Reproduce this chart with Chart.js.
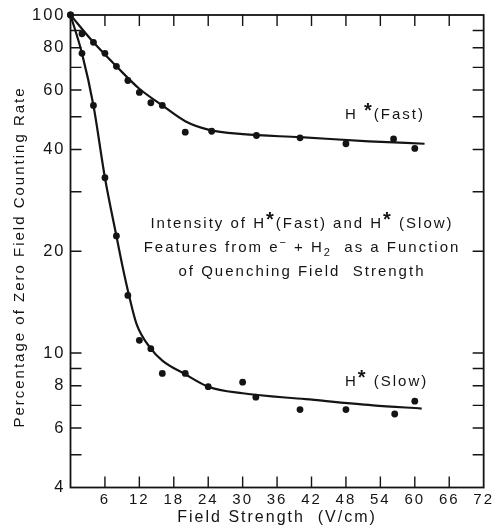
<!DOCTYPE html>
<html>
<head>
<meta charset="utf-8">
<script src="https://cdn.jsdelivr.net/npm/chart.js@4"></script>
<style>
  html, body { margin: 0; padding: 0; background: #fff; }
  #wrap { width: 495px; height: 527px; }
</style>
</head>
<body>
<div id="wrap"><canvas id="chart" width="495" height="527"></canvas></div>
<script>
// ==== Data ====
const fastX = [0, 2, 4, 6, 8, 10, 12, 14, 16, 20, 24.6, 32.4, 40, 48, 56.3, 60];
const fastY = [100, 88, 83, 77, 70.5, 64, 59, 55, 54, 45, 45.3, 44, 43.3, 41.6, 43, 40.3];

const slowX = [0, 2, 4, 6, 8, 10, 12, 14, 16, 20, 24, 30, 32.3, 40, 48, 56.5, 60];
const slowY = [100, 77, 54, 33, 22.2, 14.8, 10.9, 10.3, 8.7, 8.7, 7.95, 8.2, 7.4, 6.8, 6.8, 6.6, 7.2];

// hand drawn fit curves
const fastCurveX = [0, 4, 8, 12, 16, 20, 24, 30, 40, 52, 61.7];
const fastCurveY = [100, 83, 70.5, 60.5, 54, 48.5, 45.8, 44.4, 43.5, 42.3, 41.6];

const slowCurveX = [0, 2, 4, 6, 8, 9.2, 10.2, 11.5, 14, 16, 20, 24, 30, 41, 52.7, 61.2];
const slowCurveY = [100, 77, 54, 33, 22.2, 17.6, 14.8, 12.2, 10.3, 9.5, 8.65, 7.95, 7.6, 7.3, 7.0, 6.85];

// axes
const xTickValues = [6, 12, 18, 24, 30, 36, 42, 48, 54, 60, 66];
const xLabelValues = [6, 12, 18, 24, 30, 36, 42, 48, 54, 60, 66, 72];
const yTickValues = [4, 5, 6, 7, 8, 9, 10, 20, 30, 40, 50, 60, 70, 80, 90, 100];
const yLabelValues = [4, 6, 8, 10, 20, 40, 60, 80, 100];

const INK = "#141414";
const FONT = "'Liberation Sans', Arial, sans-serif";
const SPACING = "2px";

const toPts = (xs, ys) => xs.map((x, i) => ({ x: x, y: ys[i] }));

// ==== Text helpers ====
function partFont(mode, size) {
  if (mode === "star") return `bold ${size + 5}px ${FONT}`;
  if (mode === "sup" || mode === "sub") return `${size - 4}px ${FONT}`;
  return `${size}px ${FONT}`;
}
function partShift(mode, size) {
  if (mode === "star") return -size * 0.12;
  if (mode === "sup") return -size * 0.4;
  if (mode === "sub") return size * 0.25;
  return 0;
}
function drawRich(ctx, parts, x, y, size, center) {
  let w = 0;
  parts.forEach(([t, m]) => { ctx.font = partFont(m, size); w += ctx.measureText(t).width; });
  let cx = center ? x - w / 2 : x;
  parts.forEach(([t, m]) => {
    ctx.font = partFont(m, size);
    ctx.fillText(t, cx, y + partShift(m, size));
    cx += ctx.measureText(t).width;
  });
}

// ==== Frame, inward ticks and lettering ====
const paperPlugin = {
  id: "paper",
  beforeDraw(chart) {
    chart.ctx.letterSpacing = SPACING;
  },
  afterDraw(chart) {
    const ctx = chart.ctx;
    const { left, right, top, bottom } = chart.chartArea;
    const xs = chart.scales.x, ys = chart.scales.y;
    const len = 11;
    ctx.save();
    ctx.strokeStyle = INK;
    ctx.lineWidth = 1.8;
    ctx.strokeRect(left, top, right - left, bottom - top);

    ctx.lineWidth = 1.4;
    ctx.beginPath();
    xTickValues.forEach(v => {
      const px = xs.getPixelForValue(v);
      ctx.moveTo(px, bottom); ctx.lineTo(px, bottom - len);
      ctx.moveTo(px, top); ctx.lineTo(px, top + len);
    });
    yTickValues.forEach(v => {
      if (v === 4 || v === 100) return;
      const py = ys.getPixelForValue(v);
      ctx.moveTo(left, py); ctx.lineTo(left + len, py);
      ctx.moveTo(right, py); ctx.lineTo(right - len, py);
    });
    ctx.stroke();

    ctx.fillStyle = INK;
    ctx.letterSpacing = SPACING;
    ctx.textAlign = "left";
    ctx.textBaseline = "alphabetic";

    // series labels
    drawRich(ctx, [["H ", ""], ["*", "star"], ["(Fast)", ""]], 345, 119, 15, false);
    drawRich(ctx, [["H", ""], ["*", "star"], [" (Slow)", ""]], 345, 386, 15, false);

    // caption
    drawRich(ctx, [["Intensity of H", ""], ["*", "star"], ["(Fast) and H", ""], ["*", "star"], [" (Slow)", ""]], 302, 228, 15, true);
    drawRich(ctx, [["Features from e", ""], ["\u2212", "sup"], [" + H", ""], ["2", "sub"], ["  as a Function", ""]], 302, 252, 15, true);
    drawRich(ctx, [["of Quenching Field  Strength", ""]], 302, 276, 15, true);

    // y axis title
    ctx.translate(24, 257);
    ctx.rotate(-Math.PI / 2);
    ctx.textAlign = "center";
    ctx.font = `15px ${FONT}`;
    ctx.fillText("Percentage of Zero Field Counting Rate", 0, 0);
    ctx.restore();
  }
};

// ==== Chart ====
const ctx = document.getElementById("chart");
const chart = new Chart(ctx, {
  type: "scatter",
  data: {
    datasets: [
      {
        label: "H*(Fast) fit",
        data: toPts(fastCurveX, fastCurveY),
        showLine: true,
        borderColor: INK,
        borderWidth: 2.2,
        pointRadius: 0,
        cubicInterpolationMode: "monotone"
      },
      {
        label: "H*(Slow) fit",
        data: toPts(slowCurveX, slowCurveY),
        showLine: true,
        borderColor: INK,
        borderWidth: 2.2,
        pointRadius: 0,
        cubicInterpolationMode: "monotone"
      },
      {
        label: "H*(Fast)",
        data: toPts(fastX, fastY),
        showLine: false,
        clip: false,
        pointRadius: 3.4,
        pointBackgroundColor: INK,
        pointBorderWidth: 0
      },
      {
        label: "H*(Slow)",
        data: toPts(slowX, slowY),
        showLine: false,
        clip: false,
        pointRadius: 3.4,
        pointBackgroundColor: INK,
        pointBorderWidth: 0
      }
    ]
  },
  options: {
    responsive: false,
    animation: false,
    layout: { padding: { top: 15, right: 10, left: 0, bottom: 0 } },
    plugins: {
      legend: { display: false },
      tooltip: { enabled: false }
    },
    scales: {
      x: {
        type: "linear",
        min: 0,
        max: 72,
        grid: { display: false, drawTicks: false },
        border: { display: false },
        afterBuildTicks: (scale) => { scale.ticks = [0].concat(xLabelValues).map(v => ({ value: v })); },
        afterFit: (scale) => { scale.height = 39.5; },
        ticks: {
          padding: 3,
          color: INK,
          maxRotation: 0,
          autoSkip: false,
          font: { family: FONT, size: 15 },
          callback: (v) => (v === 0 ? "" : v)
        },
        title: {
          display: true,
          text: "Field Strength  (V/cm)",
          color: INK,
          font: { family: FONT, size: 16 },
          padding: { top: 0, bottom: 0 }
        }
      },
      y: {
        type: "logarithmic",
        min: 4,
        max: 100,
        grid: { display: false, drawTicks: false },
        border: { display: false },
        afterBuildTicks: (scale) => { scale.ticks = yTickValues.map(v => ({ value: v })); },
        afterFit: (scale) => { scale.width = 70.5; },
        ticks: {
          padding: 5,
          color: INK,
          autoSkip: false,
          font: { family: FONT, size: 16.5 },
          callback: (v) => (yLabelValues.includes(v) ? String(v) : "")
        }
      }
    }
  },
  plugins: [paperPlugin]
});
</script>
</body>
</html>
